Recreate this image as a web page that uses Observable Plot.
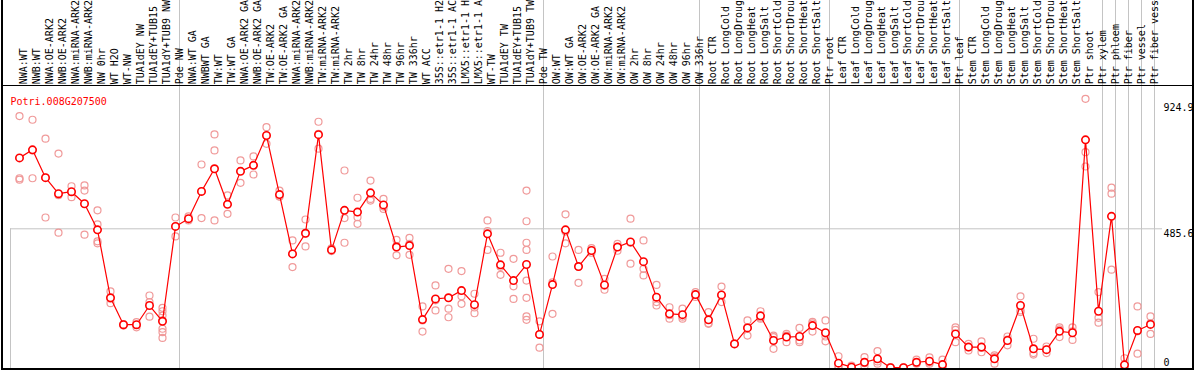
<!DOCTYPE html>
<html><head><meta charset="utf-8">
<script src="https://cdn.jsdelivr.net/npm/d3@7"></script>
<script src="https://cdn.jsdelivr.net/npm/@observablehq/plot@0.6"></script>
<style>
html,body{margin:0;padding:0;background:#fff;}
#chart svg{display:block;}
</style></head><body><div id="chart"></div>
<script>
const geneId = "Potri.008G207500";
const categories = [
"NWA:WT","NWB:WT","NWA:OE-ARK2","NWB:OE-ARK2","NWA:miRNA-ARK2","NWB:miRNA-ARK2","NW 0hr","WT H2O","WT-NW","TUA1dEY NW","TUA1dEY+TUB15","TUA1dY+TUB9 NW","Pde NW",
"NWA:WT GA","NWBWT GA","TW:WT","TW:WT GA","NWA:OE-ARK2 GA","NWB:OE-ARK2 GA","TW:OE-ARK2","TW:OE-ARK2 GA","NWA:miRNA-ARK2","NWB:miRNA-ARK2","TW:miRNA-ARK2","TW:miRNA-ARK2","TW 2hr","TW 8hr","TW 24hr","TW 48hr","TW 96hr","TW 336hr","WT ACC","35S::etr1-1 H2","35S::etr1-1 AC","LMX5::etr1-1 H","LMX5::etr1-1 A","WT-TW","TUA1dEY TW","TUA1dEY+TUB15","TUA1dY+TUB9 TW","Pde TW",
"OW:WT","OW:WT GA","OW:OE-ARK2","OW:OE-ARK2 GA","OW:miRNA-ARK2","OW:miRNA-ARK2","OW 2hr","OW 8hr","OW 24hr","OW 48hr","OW 96hr","OW 336hr",
"Root CTR","Root LongCold","Root LongDroug","Root LongHeat","Root LongSalt","Root ShortCold","Root ShortDrou","Root ShortHeat","Root ShortSalt","Ptr root",
"Leaf CTR","Leaf LongCold","Leaf LongDroug","Leaf LongHeat","Leaf LongSalt","Leaf ShortCold","Leaf ShortDrou","Leaf ShortHeat","Leaf ShortSalt","Ptr leaf",
"Stem CTR","Stem LongCold","Stem LongDroug","Stem LongHeat","Stem LongSalt","Stem ShortCold","Stem ShortDrou","Stem ShortHeat","Stem ShortSalt","Ptr shoot","Ptr xylem","Ptr phloem","Ptr fiber","Ptr vessel","Ptr fiber vess"
];
const means = [
733, 761, 664, 608, 615, 573, 482, 245, 151, 151, 218, 163, 494,
521, 616, 695, 571, 686, 707, 811, 605, 398, 470, 814, 412, 550, 544, 611, 569, 422, 427, 169, 241, 245, 270, 221, 468, 360, 305, 361, 117,
291, 482, 354, 410, 290, 422, 440, 371, 247, 189, 186, 256,
168, 255, 84, 140, 182, 96, 108, 110, 148, 123,
17, 3, 20, 32, 1, 1, 20, 24, 12, 119,
73, 73, 32, 96, 218, 67, 64, 128, 123, 796, 198, 529, 11, 131, 152
];
const replicates = [
[879,662,657],[866,662,759],[800,664,525],[748,603,472],[634,614,596],[637,619,465],[550,501,442,435],[267,242,226],[148,151,153],[160,150,142],[253,230,179],[210,198,183,166,137,125,105],[525,494,459],
[529,518,515],[710,615,523],[815,759,515],[602,572,538],[724,687,646],[738,707,675],[840,811,782],[619,598,598],[445,399,352],[518,469,424],[859,817,765],[417,412,408],[689,523,437],[594,526,503],[654,590,584],[590,563,555],[447,425,393],[454,433,395],[215,166,127],[288,236,201],[346,207,177],[338,250,224],[259,211,191],[515,478,412],[402,353,325],[381,285,241],[619,512,437,412,305,245,180,168],[163,117,71],
[389,299,189],[536,476,435],[412,353,297],[418,410,402],[311,287,273],[433,422,409],[521,437,364],[445,346,323],[290,230,218],[212,184,172],[207,179,172],[265,256,248],
[195,156,154],[284,252,230],[86,84,83],[166,142,113],[198,176,172],[113,108,67],[119,113,90],[140,96,90],[161,156,127],[166,110,93],
[41,6,3],[8,1,0],[38,17,6],[59,23,15],[3,0,0],[2,1,0],[29,17,15],[37,20,15],[29,5,3],[142,133,90],
[84,72,61],[93,70,55],[44,38,15],[110,99,79],[250,201,195],[102,52,47],[75,64,52],[142,135,108],[142,128,98],[939,753,703],[265,175,158],[629,608,343],[34,0,0],[215,128,50],[180,156,119]
];
const groupStarts = [0, 13, 41, 53, 63, 73, 84, 85, 86, 87, 88];
const yTicks = [0, 485.6, 924.9];
const yDomain = [-5.2, 985.5];

const repRows = replicates.flatMap((r, i) => r.map(v => ({i, v})));
const meanRows = means.map((v, i) => ({i, v}));
const FONT = "DejaVu Sans Mono, monospace";
const GRID = "#c4c4c4";

const chart = Plot.plot({
  width: 1194, height: 370,
  marginTop: 85, marginBottom: 1, marginLeft: 19, marginRight: 44,
  x: {type: "linear", domain: [0, categories.length - 1], axis: null},
  y: {type: "linear", domain: yDomain, axis: null},
  style: {fontFamily: FONT, fontSize: "10px", background: "white", overflow: "hidden"},
  marks: [
    Plot.ruleY([yTicks[1]], {stroke: GRID, strokeWidth: 1, insetLeft: -9, insetRight: -12}),
    Plot.ruleX([groupStarts[0]], {y1: yTicks[1], y2: yDomain[0], stroke: GRID, strokeWidth: 1, dx: -9}),
    Plot.ruleX(groupStarts.slice(1), {stroke: GRID, strokeWidth: 1, dx: -9, insetTop: -86}),
    Plot.dot(repRows, {x: "i", y: "v", r: 3.5, stroke: "#f09a9a", strokeWidth: 1.2, fill: "none"}),
    Plot.line(meanRows, {x: "i", y: "v", stroke: "#ff0000", strokeWidth: 1.2}),
    Plot.dot(meanRows, {x: "i", y: "v", r: 3.7, stroke: "#ff0000", strokeWidth: 1.6, fill: "white"}),
    Plot.ruleY([yDomain[1]], {stroke: "black", strokeWidth: 1, insetLeft: -18, insetRight: -43}),
    Plot.ruleY([yDomain[0]], {stroke: "black", strokeWidth: 2, dy: -0.5, insetLeft: -18, insetRight: -43}),
    Plot.ruleX([0], {stroke: "black", strokeWidth: 2, dx: -17.5, insetTop: -86, insetBottom: -1}),
    Plot.ruleX([categories.length - 1], {stroke: "black", strokeWidth: 2, dx: 42.5, insetTop: -86, insetBottom: -1}),
    Plot.text(categories, {x: (d, i) => i, frameAnchor: "top", rotate: -90, textAnchor: "start", dy: -1.2, fill: "black", fontFamily: FONT, fontSize: 10}),
    Plot.text(yTicks.filter(v => v > 0), {y: d => d, text: d => d.toFixed(1), frameAnchor: "right", dx: 13, dy: 1, lineAnchor: "top", textAnchor: "start", fill: "black", fontFamily: FONT, fontSize: 10}),
    Plot.text(yTicks.filter(v => v === 0), {y: d => d, text: d => String(d), frameAnchor: "right", dx: 13, dy: -2, lineAnchor: "bottom", textAnchor: "start", fill: "black", fontFamily: FONT, fontSize: 10}),
    Plot.text([geneId], {frameAnchor: "top-left", dx: -9, dy: 12, textAnchor: "start", fill: "#ff0000", fontFamily: FONT, fontSize: 10})
  ]
});
document.getElementById("chart").appendChild(chart);
</script></body></html>
